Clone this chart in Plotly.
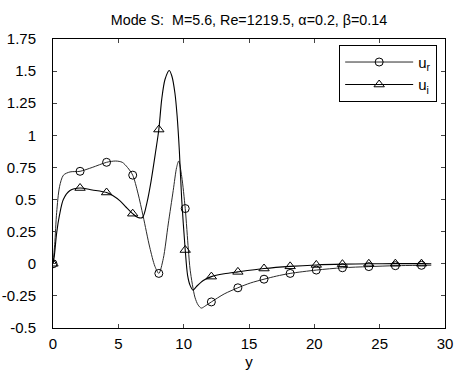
import plotly.graph_objects as go

# ---- data ----
# dense readings of the smooth curves
y_r_line = [0, 0.13, 0.28, 0.5, 0.8, 1.3, 3.0, 4.8, 5.3, 5.7, 6.5, 6.9, 7.4, 7.8,
            8.44, 8.82, 9.2, 9.46, 9.62, 9.85, 10.36, 10.5, 10.86, 11.1, 11.35, 11.7,
            13.1, 15.1, 17.1, 28.95]
ur_line = [0, 0.15, 0.40, 0.60, 0.69, 0.715, 0.75, 0.80, 0.79, 0.75, 0.55, 0.37, 0.13, -0.02,
           0.04, 0.31, 0.57, 0.75, 0.80, 0.68, 0.11, -0.05, -0.26, -0.32, -0.345, -0.325,
           -0.235, -0.15, -0.096, -0.011]

y_i_line = [0, 0.1, 0.28, 0.5, 0.79, 1.3, 3.0, 4.6, 5.13, 5.6, 6.5, 6.85, 7.2, 7.5, 7.85,
            8.32, 8.57, 8.9, 9.1, 9.33, 9.5, 9.67, 9.85, 10.3, 10.5, 10.72, 11.0, 11.5,
            13.1, 28.95]
ui_line = [0, 0.06, 0.24, 0.38, 0.50, 0.57, 0.575, 0.53, 0.49, 0.44, 0.36, 0.36, 0.48, 0.64, 0.87,
           1.28, 1.435, 1.505, 1.46, 1.33, 1.15, 0.88, 0.50, -0.09, -0.17, -0.205, -0.175, -0.13,
           -0.078, 0.0]

# marker positions (every few grid points)
y_mark = [0, 2.07, 4.1, 6.1, 8.1, 10.12, 12.12, 14.15, 16.15, 18.15, 20.15, 22.15, 24.17, 26.2, 28.2]
ur_mark = [0, 0.72, 0.79, 0.69, -0.075, 0.43, -0.297, -0.187, -0.12, -0.075, -0.049, -0.031, -0.022, -0.015, -0.012]
ui_mark = [0, 0.59, 0.555, 0.39, 1.045, 0.107, -0.10, -0.063, -0.037, -0.02, -0.009, -0.003, 0.0, 0.001, 0.001]

x_ticks = [0, 5, 10, 15, 20, 25, 30]
y_ticks = [-0.5, -0.25, 0, 0.25, 0.5, 0.75, 1, 1.25, 1.5, 1.75]
y_ticktext = ["-0.5", "-0.25", "0", "0.25", "0.5", "0.75", "1", "1.25", "1.5", "1.75"]


def merge(xs, ys, mx, my):
    pts = dict(zip(xs, ys))
    pts.update(dict(zip(mx, my)))
    k = sorted(pts)
    return k, [pts[v] for v in k]


xr, yr = merge(y_r_line, ur_line, y_mark, ur_mark)
xi, yi = merge(y_i_line, ui_line, y_mark, ui_mark)

fig = go.Figure()
fig.add_trace(go.Scatter(x=xr, y=yr, mode="lines", line=dict(color="#2a2a2a", width=1, shape="spline", smoothing=0.8),
                         showlegend=False, hoverinfo="skip"))
fig.add_trace(go.Scatter(x=xi, y=yi, mode="lines", line=dict(color="black", width=1.1, shape="spline", smoothing=0.8),
                         showlegend=False, hoverinfo="skip"))
fig.add_trace(go.Scatter(x=y_mark, y=ur_mark, mode="markers",
                         marker=dict(symbol="circle-open", size=8, color="black", line=dict(width=1)),
                         showlegend=False))
fig.add_trace(go.Scatter(x=y_mark, y=ui_mark, mode="markers",
                         marker=dict(symbol="triangle-up-open", size=9, color="black", line=dict(width=1)),
                         showlegend=False))
# legend entries
fig.add_trace(go.Scatter(x=[None], y=[None], mode="lines+markers", name="u<sub>r</sub>",
                         line=dict(color="#2a2a2a", width=1),
                         marker=dict(symbol="circle-open", size=8, color="black", line=dict(width=1))))
fig.add_trace(go.Scatter(x=[None], y=[None], mode="lines+markers", name="u<sub>i</sub>",
                         line=dict(color="black", width=1.1),
                         marker=dict(symbol="triangle-up-open", size=9, color="black", line=dict(width=1))))

fig.update_layout(
    width=454, height=381,
    margin=dict(l=53, r=9, t=39, b=53),
    paper_bgcolor="white", plot_bgcolor="white",
    font=dict(family="Liberation Sans, Arial, sans-serif", size=15, color="black"),
    title=dict(text="Mode S:  M=5.6, Re=1219.5, \u03b1=0.2, \u03b2=0.14", x=0.5, xref="paper",
               y=1 - 20 / 381, yref="container", yanchor="middle", xanchor="center",
               font=dict(size=14.3, color="black")),
    legend=dict(x=0.98, y=0.98, xanchor="right", yanchor="top", bordercolor="black", borderwidth=1,
                bgcolor="white", font=dict(size=15, color="black"), itemwidth=68, tracegroupgap=0),
    showlegend=True,
)
fig.update_xaxes(range=[0, 30], tickvals=x_ticks, ticks="inside", ticklen=4, mirror="ticks",
                 showline=True, linecolor="black", linewidth=1, showgrid=False, zeroline=False,
                 automargin=False, tickfont=dict(size=15, color="black"),
                 title=dict(text="y", font=dict(size=15, color="black"), standoff=5), ticklabelstandoff=2)
fig.update_yaxes(range=[-0.5, 1.75], tickvals=y_ticks, ticktext=y_ticktext, ticks="inside", ticklen=4,
                 mirror="ticks", showline=True, linecolor="black", linewidth=1, showgrid=False,
                 zeroline=False, automargin=False, tickfont=dict(size=15, color="black"), ticklabelstandoff=13)

fig.write_html("out.html")
